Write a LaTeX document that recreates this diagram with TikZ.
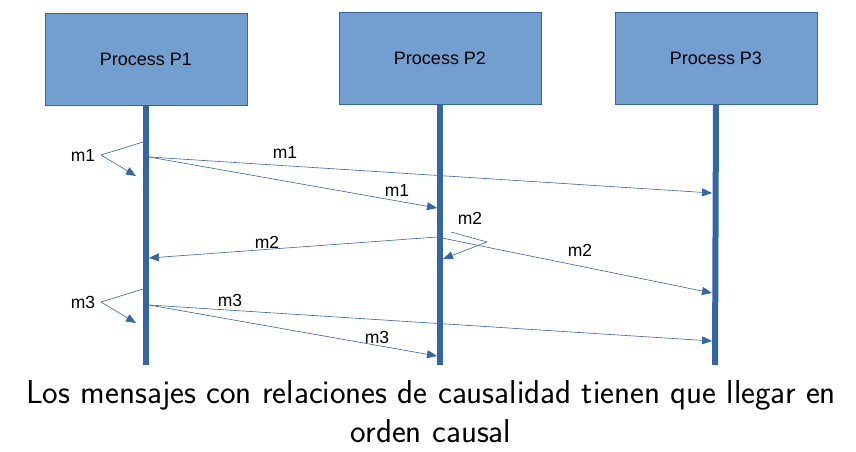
\documentclass[tikz,border=0pt]{standalone}
\usepackage{fontspec}
\setmainfont{Liberation Sans}
\usetikzlibrary{arrows.meta}
\definecolor{boxfill}{RGB}{114,159,207}
\definecolor{boxline}{RGB}{52,101,164}
\definecolor{life}{RGB}{52,101,164}
\begin{document}
\begin{tikzpicture}[x=1pt,y=-1pt,
  proc/.style={draw=boxline,fill=boxfill,line width=0.8pt,minimum width=202pt,minimum height=92pt,inner sep=0pt,font=\fontsize{18}{20}\selectfont},
  lifeline/.style={draw=life,line width=6pt},
  msg/.style={draw=life,line width=0.6pt,-{Triangle[length=10pt,width=8pt]}},
  seg/.style={draw=life,line width=0.6pt},
  lbl/.style={font=\fontsize{17.5}{20}\selectfont,inner sep=0pt},
  captxt/.style={font=\sffamily\fontsize{33.1}{39}\selectfont,inner sep=0pt,anchor=base}]
\useasboundingbox (0,0) rectangle (856,452);
\node[proc] (p1) at (146,59) {Process P1};
\node[proc] (p2) at (440,58) {Process P2};
\node[proc] (p3) at (716,58) {Process P3};
\coordinate (b1) at (146,365);
\coordinate (b2) at (440,365);
\coordinate (b3) at (715,365);
\draw[lifeline] (p1.south) -- (b1);
\draw[lifeline] (p2.south) -- (b2);
\draw[lifeline] (p3.south) -- (b3);
% m1
\coordinate (s1a) at (143,142);
\coordinate (s1b) at (101,155);
\coordinate (s1c) at (136,176);
\draw[seg] (s1a) -- (s1b);
\draw[msg] (s1b) -- (s1c);
\node[lbl] (l1a) at (83,155) {m1};
\coordinate (m1s) at (149,157);
\coordinate (m1p3) at (712,193);
\coordinate (m1p2) at (437,208);
\draw[msg] (m1s) -- (m1p3);
\draw[msg] (m1s) -- (m1p2);
\node[lbl] (l1b) at (285,152) {m1};
\node[lbl] (l1c) at (397,190) {m1};
% m2
\coordinate (s2a) at (451,232);
\coordinate (s2b) at (487,242);
\coordinate (s2c) at (443,259);
\draw[seg] (s2a) -- (s2b);
\draw[msg] (s2b) -- (s2c);
\node[lbl] (l2a) at (470,218) {m2};
\coordinate (m2s) at (437,237);
\coordinate (m2p1) at (149,258);
\coordinate (m2p3) at (712,293);
\draw[msg] (m2s) -- (m2p1);
\draw[msg] (m2s) -- (m2p3);
\node[lbl] (l2b) at (267,242) {m2};
\node[lbl] (l2c) at (580,250) {m2};
% m3
\coordinate (s3a) at (143,289);
\coordinate (s3b) at (101,302);
\coordinate (s3c) at (136,323);
\draw[seg] (s3a) -- (s3b);
\draw[msg] (s3b) -- (s3c);
\node[lbl] (l3a) at (83,302) {m3};
\coordinate (m3s) at (149,305);
\coordinate (m3p3) at (712,341);
\coordinate (m3p2) at (437,356);
\draw[msg] (m3s) -- (m3p3);
\draw[msg] (m3s) -- (m3p2);
\node[lbl] (l3b) at (230,300) {m3};
\node[lbl] (l3c) at (377,337) {m3};
% caption
\node[captxt] (cap1) at (431,403) {Los mensajes con relaciones de causalidad tienen que llegar en};
\node[captxt] (cap2) at (431,442) {orden causal};
\end{tikzpicture}
\end{document}
